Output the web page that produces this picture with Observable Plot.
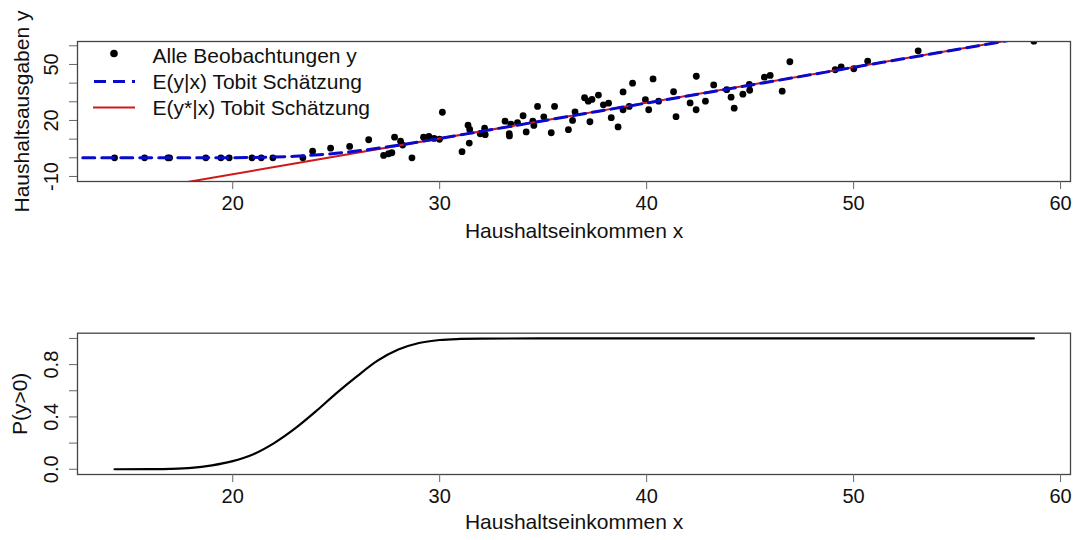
<!DOCTYPE html>
<html><head><meta charset="utf-8">
<script src="https://cdn.jsdelivr.net/npm/d3@7"></script>
<script src="https://cdn.jsdelivr.net/npm/@observablehq/plot@0.6"></script>
<style>
html,body{margin:0;padding:0;background:#fff;}
#wrap{position:relative;width:1074px;height:540px;font-family:"Liberation Sans",Arial,sans-serif;}
#wrap svg{display:block;}
#legend{position:absolute;left:0;top:0;pointer-events:none;}
</style></head><body><div id="wrap"></div>
<script>
// Observations: Haushaltseinkommen x, Haushaltsausgaben y (censored at 0)
const obsX = [14.29,15.74,16.87,16.95,18.70,19.43,19.83,20.93,21.38,21.94,23.39,28.66,
  23.86,24.73,25.65,26.57,27.29,27.53,27.69,27.82,28.11,28.21,29.22,29.48,29.73,29.99,30.13,
  31.08,31.37,31.45,31.43,31.96,32.17,32.20,33.16,33.36,33.37,33.44,33.76,34.03,34.18,34.50,
  34.55,34.73,35.03,35.39,35.55,36.22,36.42,36.54,37.00,37.18,37.36,37.26,37.67,37.91,38.16,
  38.29,38.62,38.86,38.86,39.16,39.32,39.94,40.10,40.31,40.58,41.30,41.42,42.10,42.40,42.39,
  42.84,43.24,43.87,44.08,44.23,44.65,44.96,44.98,45.69,45.97,46.55,46.92,49.11,49.40,50.01,
  50.68,53.12,58.71];
const obsY = [0,0,0,0,0,0,0,0,0,0,0,0,
  3.55,5.16,6.07,9.66,1.25,2.16,2.70,11.05,8.91,6.82,11.0,11.43,10.36,9.93,24.39,
  3.28,17.43,15.18,7.89,12.87,15.87,12.39,19.62,12.87,11.70,17.96,18.82,22.52,13.84,19.62,
  17.32,27.50,21.93,13.41,27.50,15.07,20.0,24.61,32.16,30.34,31.25,19.30,33.61,28.36,29.27,
  21.50,16.52,35.27,25.73,27.50,39.98,31.14,25.73,42.23,30.34,35.37,22.03,29.37,43.68,25.73,
  30.34,39.02,36.50,32.48,26.59,34.09,39.28,36.18,43.19,44.11,35.70,51.44,47.16,48.66,47.70,
  51.77,57.28,62.5];

// E(y|x) Tobit estimate (dashed blue)
const eyX = [10,14.29,18,20,22,23,24,25,26,27,28,29,30,32,62];
const eyY = [0,0,0.01,0.08,0.42,0.83,1.48,2.41,3.62,5.09,6.74,8.52,10.38,14.16,71.5];

// E(y*|x) Tobit estimate (solid red)
const eStarX = [10,62];
const eStarY = [-27.9,71.5];

// P(y>0)
const probX = [14.29,16,17,18,19,20,21,22,23,24,25,26,27,28,29,30,31,32,35,58.71];
const probY = [0.000,0.001,0.003,0.010,0.030,0.062,0.115,0.20,0.31,0.44,0.58,0.71,0.83,0.915,0.965,0.988,0.996,0.999,1.0,1.0];

const xTicks = [20,30,40,50,60];
const yTicksTop = [-10,0,10,20,30,40,50,60];
const yLabelsTop = [-10,20,50];
const yTicksBottom = [0,0.2,0.4,0.6,0.8,1.0];
const yLabelsBottom = [0,0.4,0.8];
const legendLabels = ["Alle Beobachtungen y","E(y|x) Tobit Schätzung","E(y*|x) Tobit Schätzung"];
const xTitle = "Haushaltseinkommen x";
const yTitleTop = "Haushaltsausgaben y";
const yTitleBottom = "P(y>0)";

const obs = obsX.map((x,i)=>({x, y: obsY[i]}));
const ey = eyX.map((x,i)=>({x, y: eyY[i]}));
const eStar = eStarX.map((x,i)=>({x, y: eStarY[i]}));
const prob = probX.map((x,i)=>({x, y: probY[i]}));

const FONT = '"Liberation Sans", Arial, sans-serif';
const BLUE = "#0a0acc", RED = "#d01818";

const topPlot = Plot.plot({
  width: 1074, height: 270,
  marginLeft: 77, marginRight: 4, marginTop: 41, marginBottom: 89,
  style: {fontFamily: FONT, fontSize: "20px", background: "white", color: "#111"},
  x: {domain: [12.5, 60.48]},
  y: {domain: [-12.7, 62.3]},
  marks: [
    Plot.dot(obs, {x: "x", y: "y", r: 3.4, fill: "#000", stroke: "none", clip: true}),
    Plot.line(eStar, {x: "x", y: "y", stroke: RED, strokeWidth: 2, clip: true}),
    Plot.line(ey, {x: "x", y: "y", stroke: BLUE, strokeWidth: 3, strokeDasharray: "12,7", curve: "monotone-x", clip: true}),
    Plot.frame({stroke: "#444", strokeWidth: 1.3}),
    Plot.axisX({ticks: xTicks, tickSize: 8, tickPadding: 6, label: null, stroke: "#666", fill: "#111"}),
    Plot.axisY({ticks: yTicksTop, tickSize: 8, tickPadding: 12, tickRotate: -90, label: null,
      tickFormat: d => yLabelsTop.includes(d) ? String(d) : "", stroke: "#666", fill: "#111"}),
    Plot.text([xTitle], {text: d => d, frameAnchor: "bottom", dy: 56, fontSize: 21, fill: "#111"}),
    Plot.text([yTitleTop], {text: d => d, frameAnchor: "left", textAnchor: "middle", lineAnchor: "middle", dx: -55, rotate: -90, fontSize: 21, fill: "#111"})
  ]
});

const bottomPlot = Plot.plot({
  width: 1074, height: 270,
  marginLeft: 77, marginRight: 4, marginTop: 62.7, marginBottom: 66,
  style: {fontFamily: FONT, fontSize: "20px", background: "white", color: "#111"},
  x: {domain: [12.5, 60.48]},
  y: {domain: [-0.04, 1.04]},
  marks: [
    Plot.line(prob, {x: "x", y: "y", stroke: "#000", strokeWidth: 2.2, curve: "monotone-x"}),
    Plot.frame({stroke: "#444", strokeWidth: 1.3}),
    Plot.axisX({ticks: xTicks, tickSize: 8, tickPadding: 6, label: null, stroke: "#666", fill: "#111"}),
    Plot.axisY({ticks: yTicksBottom, tickSize: 8, tickPadding: 12, tickRotate: -90, label: null,
      tickFormat: d => yLabelsBottom.some(v => Math.abs(v - d) < 1e-9) ? d.toFixed(1) : "", stroke: "#666", fill: "#111"}),
    Plot.text([xTitle], {text: d => d, frameAnchor: "bottom", dy: 54, fontSize: 21, fill: "#111"}),
    Plot.text([yTitleBottom], {text: d => d, frameAnchor: "left", textAnchor: "middle", lineAnchor: "middle", dx: -57, rotate: -90, fontSize: 21, fill: "#111"})
  ]
});

const wrap = document.getElementById("wrap");
wrap.appendChild(topPlot);
wrap.appendChild(bottomPlot);

// Legend (no box), inside top panel, top-left
const leg = d3.select(wrap).append("svg").attr("id", "legend")
  .attr("width", 1074).attr("height", 270);
const rows = [55, 81.5, 107.5];
leg.append("circle").attr("cx", 114).attr("cy", rows[0] - 1.5).attr("r", 3.8).attr("fill", "#000");
leg.append("line").attr("x1", 94).attr("x2", 135).attr("y1", rows[1]).attr("y2", rows[1])
  .attr("stroke", BLUE).attr("stroke-width", 3).attr("stroke-dasharray", "12,7");
leg.append("line").attr("x1", 93).attr("x2", 135).attr("y1", rows[2]).attr("y2", rows[2])
  .attr("stroke", RED).attr("stroke-width", 2);
legendLabels.forEach((t, i) => {
  leg.append("text").attr("x", 152.5).attr("y", rows[i]).attr("dy", "0.36em")
    .attr("font-family", FONT).attr("font-size", 21).attr("fill", "#111").text(t);
});
</script></body></html>
